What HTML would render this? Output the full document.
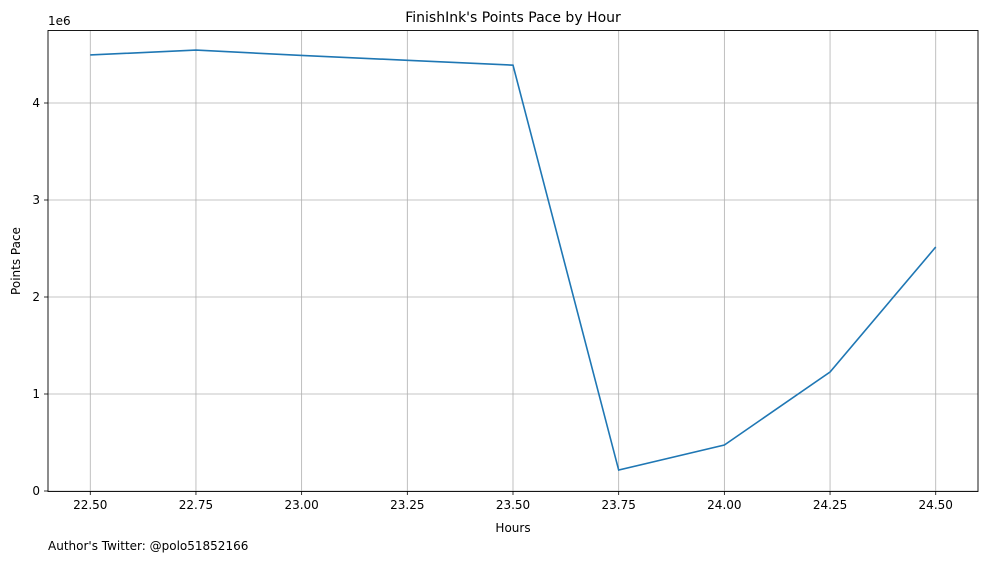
<!DOCTYPE html>
<html><head><meta charset="utf-8"><style>
body{margin:0;background:#fff;font-family:"Liberation Sans","DejaVu Sans",sans-serif;}
svg text{font-family:"DejaVu Sans","Liberation Sans",sans-serif;}
</style></head><body>
<svg id="chart" width="988" height="562" xmlns="http://www.w3.org/2000/svg">
<rect width="988" height="562" fill="#fff"/>
<g id="grid"></g>
<g id="axes"></g>
<path id="line" fill="none" stroke="#1f77b4" stroke-width="1.6"/>
<rect x="48" y="30.5" width="930" height="461" fill="none" stroke="#000" stroke-width="0.9"/>
<text x="513" y="22" text-anchor="middle" font-size="14">FinishInk's Points Pace by Hour</text>
<text x="513" y="532" text-anchor="middle" font-size="12">Hours</text>
<text x="20" y="261" text-anchor="middle" font-size="12" transform="rotate(-90 20 261)">Points Pace</text>
<text x="48" y="25" font-size="12">1e6</text>
<text x="48" y="550" font-size="12">Author's Twitter: @polo51852166</text>
</svg>
<script>
const hours=[22.5,22.75,23.0,23.25,23.5,23.75,24.0,24.25,24.5];
const pace=[4.495,4.546,4.49,4.44,4.39,0.216,0.474,1.227,2.515];
const xTicks=[22.5,22.75,23.0,23.25,23.5,23.75,24.0,24.25,24.5];
const yTicks=[0,1,2,3,4];
const X0=48,X1=978,Y0=491,Y1=30.5;
const xmin=22.4,xmax=24.6;
const x=v=>X0+(v-xmin)/(xmax-xmin)*(X1-X0);
const y=v=>Y0-v*97;
const ns="http://www.w3.org/2000/svg";
const grid=document.getElementById('grid'),axes=document.getElementById('axes');
function mk(tag,attrs,parent){const e=document.createElementNS(ns,tag);for(const k in attrs)e.setAttribute(k,attrs[k]);parent.appendChild(e);return e;}
xTicks.forEach(t=>{
 const gl=mk('line',{x1:x(t),x2:x(t),y1:Y1,y2:Y0,stroke:'#b0b0b0','stroke-width':0.8},grid);
 
 
 const tk=mk('line',{x1:x(t),x2:x(t),y1:Y0,y2:Y0+4,stroke:'#000','stroke-width':0.8},axes);
 
 
 const tx=mk('text',{x:x(t),y:Y0+18,'text-anchor':'middle','font-size':12},axes);
 tx.textContent=t.toFixed(2);
 
 
});
yTicks.forEach(t=>{
 const gl=mk('line',{x1:X0,x2:X1,y1:y(t),y2:y(t),stroke:'#b0b0b0','stroke-width':0.8},grid);
 
 
 const tk=mk('line',{x1:X0-4,x2:X0,y1:y(t),y2:y(t),stroke:'#000','stroke-width':0.8},axes);
 
 
 const tx=mk('text',{x:X0-8,y:y(t)+4,'text-anchor':'end','font-size':12},axes);
 tx.textContent=String(t);
 
 
});
document.getElementById('line').setAttribute('d',hours.map((h,i)=>(i?'L':'M')+x(h)+','+y(pace[i])).join(''));
</script>
</body></html>
